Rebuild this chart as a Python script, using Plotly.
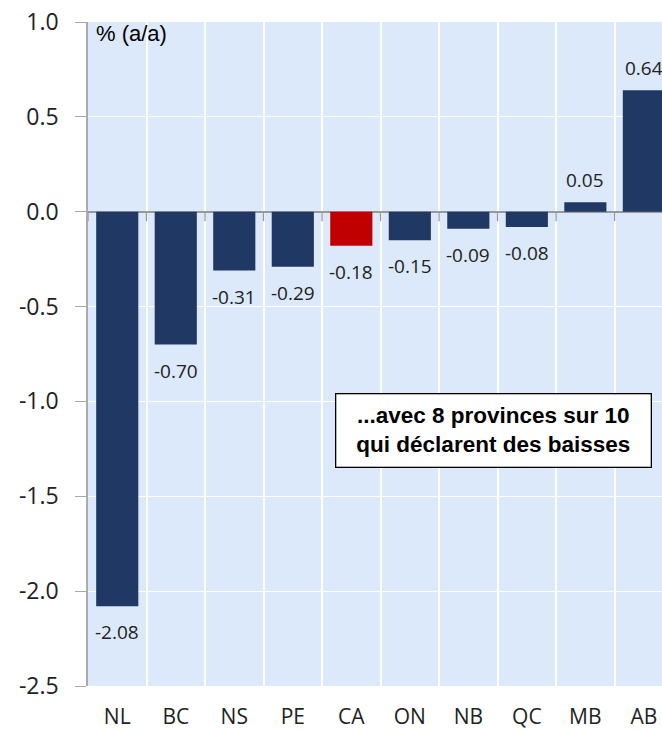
import plotly.graph_objects as go

provinces = ["NL", "BC", "NS", "PE", "CA", "ON", "NB", "QC", "MB", "AB"]
values = [-2.08, -0.70, -0.31, -0.29, -0.18, -0.15, -0.09, -0.08, 0.05, 0.64]
labels = ["-2.08", "-0.70", "-0.31", "-0.29", "-0.18", "-0.15", "-0.09", "-0.08", "0.05", "0.64"]
highlight = "CA"
y_ticks = [1.0, 0.5, 0.0, -0.5, -1.0, -1.5, -2.0, -2.5]

navy = "#1f3864"
red = "#c00000"
colors = [red if p == highlight else navy for p in provinces]
xs = list(range(len(provinces)))

fig = go.Figure()
fig.add_trace(go.Bar(
    x=xs, y=values,
    marker=dict(color=colors, line=dict(width=0)),
    width=0.72, hoverinfo="x+y",
))

# value labels, offset from the bar ends
for xi, v, lab in zip(xs, values, labels):
    fig.add_annotation(
        x=xi, y=v, xref="x", yref="y", text=lab, showarrow=False,
        yanchor="top" if v < 0 else "bottom",
        yshift=-11 if v < 0 else 7,
        font=dict(family="Open Sans", size=19, color="#222222"),
    )

# tick marks along the zero line at category boundaries
for i in range(len(provinces)):
    fig.add_shape(type="line", xref="x", yref="y", x0=i - 0.5, x1=i - 0.5,
                  y0=0, y1=-0.05, line=dict(color="#999999", width=1.3), layer="above")

fig.add_annotation(x=0.01, y=1.005, xref="paper", yref="paper", xanchor="left", yanchor="top",
                   text="% (a/a)", showarrow=False,
                   font=dict(family="Liberation Sans, Arial", size=22, color="#000000"))

fig.add_annotation(x=0.707, y=-1.153, xref="paper", yref="y", xanchor="center", yanchor="middle",
                   text="<b>...avec 8 provinces sur 10<br>qui déclarent des baisses</b>",
                   showarrow=False, align="center",
                   width=302, height=60,
                   font=dict(family="Liberation Sans, Arial", size=22.5, color="#000000"),
                   bgcolor="#ffffff", bordercolor="#000000", borderwidth=1.3,
                   borderpad=6)

fig.update_layout(
    width=662, height=733,
    margin=dict(l=88, r=0, t=22, b=47, autoexpand=False),
    paper_bgcolor="#ffffff", plot_bgcolor="#dce9fa",
    showlegend=False,
    xaxis=dict(
        tickmode="array", tickvals=xs, ticktext=provinces,
        range=[-0.5, 9.31], showgrid=False, zeroline=False, ticks="",
        tickfont=dict(family="Open Sans", size=21, color="#222222"),
        ticklabelstandoff=16,
        minor=dict(tickmode="array", tickvals=[i + 0.5 for i in range(-1, 10)],
                   showgrid=True, gridcolor="#ffffff", gridwidth=1.5),
    ),
    yaxis=dict(
        range=[-2.5, 1.0], tickmode="array", tickvals=y_ticks,
        ticktext=[f"{v:.1f}" for v in y_ticks],
        showgrid=True, gridcolor="#ffffff", gridwidth=1,
        zeroline=True, zerolinecolor="#999999", zerolinewidth=1.5,
        showline=True, linecolor="#aaaaaa", linewidth=1.5,
        ticks="outside", ticklen=11, tickcolor="#aaaaaa",
        tickfont=dict(family="Open Sans", size=23, color="#222222"),
        ticklabelstandoff=12,
    ),
)

fig.write_html("out.html", config={"displayModeBar": False},
               post_script="document.body.style.margin='0';document.body.style.overflow='hidden';")
